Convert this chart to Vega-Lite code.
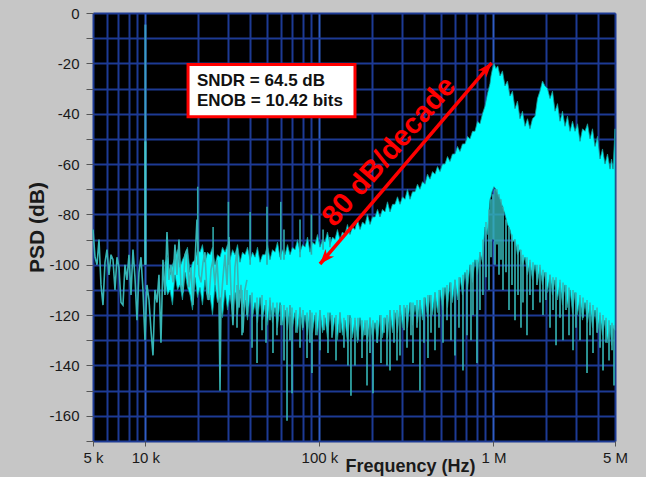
{
  "$schema": "https://vega.github.io/schema/vega-lite/v6.json",
  "width": 522,
  "height": 428,
  "autosize": {"type": "none"},
  "padding": {"left": 93, "top": 13, "right": 31, "bottom": 36},
  "background": "#c6c6c6",
  "config": {
    "view": {"fill": "#000000", "stroke": "#8c8c8c", "strokeWidth": 1},
    "font": "Liberation Sans"
  },
  "datasets": {
    "band": [
      {"f": 12970, "db": -99, "db2": -106}, {"f": 13405, "db": -97, "db2": -112},
      {"f": 13850, "db": -104, "db2": -110}, {"f": 14315, "db": -100, "db2": -116},
      {"f": 14800, "db": -97, "db2": -104}, {"f": 15300, "db": -94, "db2": -110},
      {"f": 15810, "db": -101, "db2": -108}, {"f": 16340, "db": -98, "db2": -114},
      {"f": 16890, "db": -96, "db2": -103}, {"f": 17460, "db": -93, "db2": -109},
      {"f": 18050, "db": -103, "db2": -112}, {"f": 18660, "db": -99, "db2": -118},
      {"f": 19280, "db": -98, "db2": -105}, {"f": 19930, "db": -94, "db2": -113},
      {"f": 20600, "db": -95, "db2": -109}, {"f": 21290, "db": -92, "db2": -116},
      {"f": 22010, "db": -99, "db2": -106}, {"f": 22750, "db": -95, "db2": -114},
      {"f": 23520, "db": -96, "db2": -112}, {"f": 24310, "db": -93, "db2": -120},
      {"f": 25130, "db": -100, "db2": -108}, {"f": 25970, "db": -96, "db2": -115},
      {"f": 26850, "db": -97, "db2": -113}, {"f": 27750, "db": -93, "db2": -121},
      {"f": 28690, "db": -95, "db2": -110}, {"f": 29650, "db": -92, "db2": -118},
      {"f": 30650, "db": -98, "db2": -112}, {"f": 31680, "db": -94, "db2": -119},
      {"f": 32750, "db": -96, "db2": -111}, {"f": 33850, "db": -92, "db2": -120},
      {"f": 34980, "db": -99, "db2": -110}, {"f": 36160, "db": -95, "db2": -118},
      {"f": 37370, "db": -96, "db2": -114}, {"f": 38630, "db": -93, "db2": -122},
      {"f": 39940, "db": -98, "db2": -112}, {"f": 41280, "db": -95, "db2": -121},
      {"f": 42670, "db": -97, "db2": -115}, {"f": 44100, "db": -93, "db2": -123},
      {"f": 45590, "db": -99, "db2": -113}, {"f": 47120, "db": -96, "db2": -122},
      {"f": 48710, "db": -96, "db2": -116}, {"f": 50350, "db": -92, "db2": -124},
      {"f": 52010, "db": -98, "db2": -114}, {"f": 53760, "db": -94, "db2": -123},
      {"f": 55570, "db": -95, "db2": -117}, {"f": 57440, "db": -91, "db2": -125},
      {"f": 59400, "db": -97, "db2": -115}, {"f": 61400, "db": -94, "db2": -124},
      {"f": 63460, "db": -96, "db2": -118}, {"f": 65590, "db": -92, "db2": -126},
      {"f": 67800, "db": -96, "db2": -116}, {"f": 70080, "db": -93, "db2": -125},
      {"f": 72440, "db": -94, "db2": -119}, {"f": 74870, "db": -90, "db2": -127},
      {"f": 77400, "db": -95, "db2": -117}, {"f": 80000, "db": -92, "db2": -126},
      {"f": 82700, "db": -93, "db2": -120}, {"f": 85480, "db": -89, "db2": -128},
      {"f": 88300, "db": -95, "db2": -118}, {"f": 91270, "db": -91, "db2": -127},
      {"f": 94350, "db": -92, "db2": -120}, {"f": 97520, "db": -88, "db2": -128},
      {"f": 100800, "db": -93, "db2": -118}, {"f": 104200, "db": -90, "db2": -127},
      {"f": 107700, "db": -91, "db2": -121}, {"f": 111300, "db": -87, "db2": -129},
      {"f": 115100, "db": -92, "db2": -119}, {"f": 119000, "db": -89, "db2": -128},
      {"f": 122900, "db": -90, "db2": -121}, {"f": 127000, "db": -86, "db2": -130},
      {"f": 131300, "db": -90, "db2": -119}, {"f": 135700, "db": -87, "db2": -128},
      {"f": 140300, "db": -88, "db2": -122}, {"f": 145000, "db": -84, "db2": -131},
      {"f": 149900, "db": -88, "db2": -120}, {"f": 154900, "db": -85, "db2": -129},
      {"f": 160200, "db": -86, "db2": -122}, {"f": 165600, "db": -82, "db2": -131},
      {"f": 171200, "db": -86, "db2": -121}, {"f": 177000, "db": -83, "db2": -130},
      {"f": 182900, "db": -84, "db2": -123}, {"f": 189000, "db": -80, "db2": -131},
      {"f": 195400, "db": -84, "db2": -121}, {"f": 202000, "db": -81, "db2": -130},
      {"f": 208800, "db": -81, "db2": -123}, {"f": 215800, "db": -78, "db2": -131},
      {"f": 223000, "db": -81, "db2": -120}, {"f": 230500, "db": -78, "db2": -129},
      {"f": 238300, "db": -79, "db2": -121}, {"f": 246300, "db": -75, "db2": -129},
      {"f": 254600, "db": -79, "db2": -118}, {"f": 263200, "db": -76, "db2": -127},
      {"f": 272000, "db": -76, "db2": -119}, {"f": 281100, "db": -73, "db2": -127},
      {"f": 290600, "db": -76, "db2": -116}, {"f": 300400, "db": -73, "db2": -125},
      {"f": 310500, "db": -74, "db2": -117}, {"f": 320900, "db": -70, "db2": -125},
      {"f": 331700, "db": -74, "db2": -115}, {"f": 342800, "db": -71, "db2": -124},
      {"f": 354400, "db": -71, "db2": -116}, {"f": 366300, "db": -68, "db2": -123},
      {"f": 378600, "db": -70, "db2": -114}, {"f": 391300, "db": -67, "db2": -122},
      {"f": 404500, "db": -68, "db2": -113}, {"f": 418100, "db": -64, "db2": -121},
      {"f": 432300, "db": -66, "db2": -112}, {"f": 446800, "db": -63, "db2": -120},
      {"f": 461800, "db": -64, "db2": -111}, {"f": 477300, "db": -61, "db2": -119},
      {"f": 493400, "db": -63, "db2": -110}, {"f": 510000, "db": -60, "db2": -118},
      {"f": 527200, "db": -60, "db2": -109}, {"f": 544900, "db": -57, "db2": -117},
      {"f": 563100, "db": -59, "db2": -107}, {"f": 582000, "db": -56, "db2": -115},
      {"f": 601700, "db": -56, "db2": -106}, {"f": 621900, "db": -53, "db2": -114},
      {"f": 642800, "db": -55, "db2": -105}, {"f": 664400, "db": -52, "db2": -112},
      {"f": 686800, "db": -52, "db2": -103}, {"f": 709900, "db": -49, "db2": -110},
      {"f": 733800, "db": -50, "db2": -100}, {"f": 758400, "db": -47, "db2": -107},
      {"f": 784000, "db": -47, "db2": -98}, {"f": 810300, "db": -43, "db2": -104},
      {"f": 837500, "db": -44, "db2": -95}, {"f": 865600, "db": -40, "db2": -99},
      {"f": 894800, "db": -37, "db2": -85}, {"f": 925000, "db": -32, "db2": -88},
      {"f": 956300, "db": -28, "db2": -74}, {"f": 969000, "db": -25, "db2": -73},
      {"f": 982000, "db": -23, "db2": -71}, {"f": 1008000, "db": -20, "db2": -69},
      {"f": 1035000, "db": -22, "db2": -70}, {"f": 1060000, "db": -21, "db2": -72},
      {"f": 1091600, "db": -25, "db2": -74}, {"f": 1128000, "db": -23, "db2": -77},
      {"f": 1166000, "db": -29, "db2": -80}, {"f": 1205000, "db": -27, "db2": -84},
      {"f": 1246000, "db": -33, "db2": -86}, {"f": 1288000, "db": -31, "db2": -91},
      {"f": 1331000, "db": -38, "db2": -90}, {"f": 1376000, "db": -35, "db2": -96},
      {"f": 1422000, "db": -42, "db2": -94}, {"f": 1470000, "db": -39, "db2": -100},
      {"f": 1520000, "db": -45, "db2": -97}, {"f": 1571000, "db": -42, "db2": -104},
      {"f": 1623000, "db": -46, "db2": -99}, {"f": 1678000, "db": -42, "db2": -106},
      {"f": 1735000, "db": -41, "db2": -100}, {"f": 1793000, "db": -34, "db2": -107},
      {"f": 1853000, "db": -31, "db2": -101}, {"f": 1915000, "db": -27, "db2": -108},
      {"f": 1980000, "db": -29, "db2": -103}, {"f": 2047000, "db": -30, "db2": -111},
      {"f": 2116000, "db": -34, "db2": -104}, {"f": 2187000, "db": -31, "db2": -112},
      {"f": 2261000, "db": -39, "db2": -106}, {"f": 2337000, "db": -36, "db2": -114},
      {"f": 2415000, "db": -43, "db2": -107}, {"f": 2496000, "db": -39, "db2": -116},
      {"f": 2580000, "db": -45, "db2": -108}, {"f": 2667000, "db": -41, "db2": -117},
      {"f": 2757000, "db": -47, "db2": -110}, {"f": 2850000, "db": -43, "db2": -119},
      {"f": 2946000, "db": -47, "db2": -111}, {"f": 3045000, "db": -44, "db2": -120},
      {"f": 3147000, "db": -51, "db2": -113}, {"f": 3253000, "db": -46, "db2": -122},
      {"f": 3362000, "db": -47, "db2": -115}, {"f": 3475000, "db": -44, "db2": -123},
      {"f": 3592000, "db": -50, "db2": -116}, {"f": 3713000, "db": -46, "db2": -125},
      {"f": 3838000, "db": -53, "db2": -118}, {"f": 3967000, "db": -49, "db2": -127},
      {"f": 4101000, "db": -58, "db2": -120}, {"f": 4239000, "db": -54, "db2": -128},
      {"f": 4381000, "db": -60, "db2": -122}, {"f": 4528000, "db": -56, "db2": -131},
      {"f": 4681000, "db": -62, "db2": -124}, {"f": 4775000, "db": -58, "db2": -132},
      {"f": 4870000, "db": -62, "db2": -125}, {"f": 5000000, "db": -46, "db2": -126}
    ],
    "spikes": [
      {"f": 33623, "db": -108, "db2": -125}, {"f": 35919, "db": -110, "db2": -128}, {"f": 38376, "db": -110, "db2": -120},
      {"f": 41011, "db": -111, "db2": -133}, {"f": 43817, "db": -113, "db2": -139}, {"f": 46810, "db": -112, "db2": -126},
      {"f": 49354, "db": -114, "db2": -131}, {"f": 52008, "db": -113, "db2": -122}, {"f": 54114, "db": -115, "db2": -135},
      {"f": 57056, "db": -115, "db2": -128}, {"f": 60191, "db": -116, "db2": -124}, {"f": 62629, "db": -116, "db2": -138},
      {"f": 65165, "db": -117, "db2": -162}, {"f": 67800, "db": -116, "db2": -130}, {"f": 69618, "db": -117, "db2": -151},
      {"f": 73403, "db": -118, "db2": -127}, {"f": 77400, "db": -117, "db2": -133}, {"f": 80535, "db": -118, "db2": -125},
      {"f": 84912, "db": -119, "db2": -137}, {"f": 88300, "db": -118, "db2": -131}, {"f": 90668, "db": -119, "db2": -143},
      {"f": 95597, "db": -119, "db2": -128}, {"f": 100800, "db": -118, "db2": -134}, {"f": 106280, "db": -120, "db2": -126},
      {"f": 112057, "db": -119, "db2": -135}, {"f": 118187, "db": -120, "db2": -129}, {"f": 124612, "db": -120, "db2": -138},
      {"f": 131300, "db": -119, "db2": -127}, {"f": 138437, "db": -121, "db2": -133}, {"f": 145964, "db": -120, "db2": -140},
      {"f": 151897, "db": -121, "db2": -152}, {"f": 160153, "db": -121, "db2": -140}, {"f": 166641, "db": -121, "db2": -130},
      {"f": 175792, "db": -122, "db2": -137}, {"f": 182910, "db": -122, "db2": -128}, {"f": 187817, "db": -122, "db2": -148},
      {"f": 195400, "db": -121, "db2": -135}, {"f": 203314, "db": -122, "db2": -151}, {"f": 214366, "db": -122, "db2": -131},
      {"f": 225970, "db": -120, "db2": -139}, {"f": 235122, "db": -121, "db2": -127}, {"f": 244644, "db": -120, "db2": -140},
      {"f": 254600, "db": -118, "db2": -142}, {"f": 268440, "db": -118, "db2": -131}, {"f": 279311, "db": -118, "db2": -138},
      {"f": 290600, "db": -116, "db2": -136}, {"f": 306397, "db": -116, "db2": -126}, {"f": 318806, "db": -116, "db2": -133},
      {"f": 336118, "db": -115, "db2": -128}, {"f": 345136, "db": -115, "db2": -139}, {"f": 363895, "db": -114, "db2": -125},
      {"f": 378600, "db": -114, "db2": -150}, {"f": 399181, "db": -113, "db2": -131}, {"f": 420882, "db": -112, "db2": -137},
      {"f": 438058, "db": -112, "db2": -127}, {"f": 461869, "db": -111, "db2": -134}, {"f": 486977, "db": -110, "db2": -125},
      {"f": 513383, "db": -109, "db2": -131}, {"f": 541289, "db": -108, "db2": -122}, {"f": 570600, "db": -107, "db2": -130},
      {"f": 601616, "db": -106, "db2": -136}, {"f": 634321, "db": -105, "db2": -125}, {"f": 668833, "db": -104, "db2": -142},
      {"f": 705190, "db": -102, "db2": -128}, {"f": 743574, "db": -100, "db2": -130}, {"f": 763519, "db": -99, "db2": -120},
      {"f": 805023, "db": -98, "db2": -139}, {"f": 837500, "db": -95, "db2": -118}, {"f": 871419, "db": -90, "db2": -112},
      {"f": 906711, "db": -83, "db2": -105}, {"f": 943427, "db": -78, "db2": -110}, {"f": 969038, "db": -74, "db2": -97},
      {"f": 995030, "db": -72, "db2": -90}, {"f": 1021711, "db": -70, "db2": -100}, {"f": 1049118, "db": -70, "db2": -92},
      {"f": 1077253, "db": -72, "db2": -104}, {"f": 1106140, "db": -74, "db2": -98}, {"f": 1135810, "db": -77, "db2": -110},
      {"f": 1181810, "db": -82, "db2": -103}, {"f": 1229666, "db": -85, "db2": -118}, {"f": 1279418, "db": -88, "db2": -108},
      {"f": 1331226, "db": -90, "db2": -122}, {"f": 1385153, "db": -92, "db2": -112}, {"f": 1440941, "db": -94, "db2": -125},
      {"f": 1479591, "db": -96, "db2": -115}, {"f": 1560019, "db": -97, "db2": -128}, {"f": 1623000, "db": -98, "db2": -112},
      {"f": 1688732, "db": -99, "db2": -118}, {"f": 1780528, "db": -100, "db2": -108}, {"f": 1853000, "db": -100, "db2": -115},
      {"f": 1928047, "db": -102, "db2": -120}, {"f": 2006132, "db": -103, "db2": -114}, {"f": 2116000, "db": -104, "db2": -125},
      {"f": 2201698, "db": -105, "db2": -118}, {"f": 2290866, "db": -105, "db2": -132}, {"f": 2415000, "db": -106, "db2": -121},
      {"f": 2512808, "db": -107, "db2": -130}, {"f": 2614576, "db": -108, "db2": -118}, {"f": 2720449, "db": -109, "db2": -128},
      {"f": 2868659, "db": -110, "db2": -134}, {"f": 2984838, "db": -111, "db2": -125}, {"f": 3147000, "db": -112, "db2": -130},
      {"f": 3274454, "db": -113, "db2": -121}, {"f": 3452448, "db": -114, "db2": -143}, {"f": 3592000, "db": -115, "db2": -128},
      {"f": 3737476, "db": -116, "db2": -135}, {"f": 3940640, "db": -117, "db2": -127}, {"f": 4101000, "db": -119, "db2": -133},
      {"f": 4267091, "db": -120, "db2": -142}, {"f": 4439907, "db": -121, "db2": -131}, {"f": 4619695, "db": -122, "db2": -138},
      {"f": 4806544, "db": -123, "db2": -134}, {"f": 4935459, "db": -124, "db2": -148}
    ],
    "spurs": [
      {"f": 20000, "db": -69, "db2": -100}, {"f": 24500, "db": -85, "db2": -100}, {"f": 30000, "db": -75, "db2": -100},
      {"f": 40000, "db": -79, "db2": -100}, {"f": 50000, "db": -77, "db2": -100}, {"f": 60000, "db": -75, "db2": -98},
      {"f": 62600, "db": -86, "db2": -98}, {"f": 77400, "db": -82, "db2": -97}, {"f": 90000, "db": -80, "db2": -96},
      {"f": 105000, "db": -86, "db2": -94}, {"f": 115000, "db": -89, "db2": -93}
    ],
    "low": [
      {"f": 5000, "db": -86}, {"f": 5134, "db": -97}, {"f": 5272, "db": -100}, {"f": 5413, "db": -90},
      {"f": 5558, "db": -108}, {"f": 5707, "db": -116}, {"f": 5860, "db": -99}, {"f": 6017, "db": -94},
      {"f": 6178, "db": -104}, {"f": 6344, "db": -96}, {"f": 6514, "db": -98}, {"f": 6689, "db": -110},
      {"f": 6868, "db": -97}, {"f": 7052, "db": -101}, {"f": 7241, "db": -115}, {"f": 7435, "db": -116},
      {"f": 7635, "db": -100}, {"f": 7839, "db": -106}, {"f": 8050, "db": -96}, {"f": 8265, "db": -112},
      {"f": 8487, "db": -94}, {"f": 8714, "db": -105}, {"f": 8948, "db": -122}, {"f": 9188, "db": -103},
      {"f": 9434, "db": -97}, {"f": 9687, "db": -110}, {"f": 9947, "db": -130}, {"f": 10210, "db": -108},
      {"f": 10490, "db": -114}, {"f": 10770, "db": -126}, {"f": 11060, "db": -136}, {"f": 11350, "db": -110},
      {"f": 11660, "db": -115}, {"f": 11970, "db": -104}, {"f": 12290, "db": -131}, {"f": 12620, "db": -98},
      {"f": 12960, "db": -112}, {"f": 13310, "db": -87}, {"f": 13660, "db": -106}, {"f": 14030, "db": -100},
      {"f": 14410, "db": -107}, {"f": 14790, "db": -92}, {"f": 15190, "db": -104}, {"f": 15600, "db": -90},
      {"f": 16010, "db": -108}, {"f": 16440, "db": -111}, {"f": 16890, "db": -96}, {"f": 17340, "db": -94},
      {"f": 17800, "db": -109}, {"f": 18280, "db": -101}, {"f": 18770, "db": -116}, {"f": 19280, "db": -99},
      {"f": 19790, "db": -82}, {"f": 20320, "db": -104}, {"f": 20870, "db": -107}, {"f": 21430, "db": -99},
      {"f": 22000, "db": -95}, {"f": 22590, "db": -111}, {"f": 23200, "db": -114}, {"f": 23820, "db": -102},
      {"f": 24460, "db": -98}, {"f": 25110, "db": -108}, {"f": 25790, "db": -98}, {"f": 26480, "db": -112},
      {"f": 26850, "db": -150}, {"f": 27190, "db": -116}, {"f": 27920, "db": -105}, {"f": 28670, "db": -96},
      {"f": 29440, "db": -108}, {"f": 30230, "db": -89}, {"f": 31040, "db": -110}, {"f": 31870, "db": -124},
      {"f": 32720, "db": -101}, {"f": 33600, "db": -94}, {"f": 34500, "db": -117}, {"f": 35430, "db": -108},
      {"f": 36380, "db": -127}, {"f": 37350, "db": -110}, {"f": 38350, "db": -106}
    ],
    "tone": [{"f": 10000, "db": -4.6, "db2": -100}],
    "toneb": [{"f": 10000, "db": -51, "db2": -100}],
    "box": [{"f": 17590, "f2": 160200, "db": -20.5, "db2": -41.2}],
    "boxtext": [
      {"f": 19790, "db": -29.1, "t": "SNDR = 64.5 dB"},
      {"f": 19790, "db": -37.1, "t": "ENOB = 10.42 bits"}
    ],
    "arrow": [{"f": 100800, "db": -99.7, "f2": 978000, "db2": -19.8}],
    "tipA": [{"f": 100800, "db": -99.7}],
    "tipB": [{"f": 978000, "db": -19.8}],
    "slope": [{"f": 251000, "db": -55.0, "t": "80 dB/decade"}]
  },
  "encoding": {
    "x": {
      "field": "f",
      "type": "quantitative",
      "scale": {"type": "log", "domain": [5000, 5000000], "nice": false},
      "axis": {
        "title": "Frequency (Hz)",
        "values": [5000, 6000, 7000, 8000, 9000, 10000, 20000, 30000, 40000, 50000, 60000, 70000, 80000, 90000, 100000, 200000, 300000, 400000, 500000, 600000, 700000, 800000, 900000, 1000000, 2000000, 3000000, 4000000, 5000000],
        "labelExpr": "datum.value == 5000 ? '5 k' : datum.value == 10000 ? '10 k' : datum.value == 100000 ? '100 k' : datum.value == 1000000 ? '1 M' : datum.value == 5000000 ? '5 M' : ''",
        "labelOverlap": false,
        "labelFlush": false,
        "labelFont": "Liberation Sans",
        "labelFontSize": 15,
        "labelColor": "#1a1a1a",
        "labelPadding": 4,
        "grid": true,
        "gridColor": {"condition": {"test": "datum.value == 10000 || datum.value == 100000 || datum.value == 1000000", "value": "#2f5cc4"}, "value": "#1d3a94"},
        "gridWidth": 2,
        "domain": false,
        "tickSize": 5,
        "tickColor": "#555555",
        "tickOpacity": {"condition": {"test": "datum.value == 5000 || datum.value == 10000 || datum.value == 100000 || datum.value == 1000000 || datum.value == 5000000", "value": 1}, "value": 0},
        "titleFont": "Liberation Sans",
        "titleFontSize": 18,
        "titleFontWeight": "bold",
        "titleColor": "#1a1a1a",
        "titleX": 317,
        "titleY": 30,
        "titleAlign": "center",
        "titleBaseline": "alphabetic"
      }
    },
    "y": {
      "field": "db",
      "type": "quantitative",
      "scale": {"domain": [-170, 0], "nice": false, "zero": false},
      "axis": {
        "title": "PSD (dB)",
        "values": [-170, -160, -150, -140, -130, -120, -110, -100, -90, -80, -70, -60, -50, -40, -30, -20, -10, 0],
        "labelExpr": "datum.value % 20 == 0 ? '' + datum.value : ''",
        "labelOverlap": false,
        "labelFont": "Liberation Sans",
        "labelFontSize": 15,
        "labelColor": "#1a1a1a",
        "labelPadding": 7,
        "grid": true,
        "gridColor": "#1d3a94",
        "gridWidth": 2,
        "domain": false,
        "tickSize": 7,
        "tickColor": "#555555",
        "titleFont": "Liberation Sans",
        "titleFontSize": 21,
        "titleFontWeight": "bold",
        "titleColor": "#1a1a1a",
        "titleX": -56,
        "titleY": 214,
        "titleAngle": 270,
        "titleAlign": "center",
        "titleBaseline": "middle"
      }
    }
  },
  "layer": [
    {
      "data": {"name": "band"},
      "mark": {"type": "area", "color": "#00ffff", "stroke": "#1c9090", "strokeWidth": 0.8, "opacity": 1},
      "encoding": {"y2": {"field": "db2"}}
    },
    {
      "data": {"name": "spikes"},
      "mark": {"type": "rule", "color": "#35b6b6", "strokeWidth": 1.6},
      "encoding": {"y2": {"field": "db2"}}
    },
    {
      "data": {"name": "spurs"},
      "mark": {"type": "rule", "color": "#30a8a8", "strokeWidth": 1.6},
      "encoding": {"y2": {"field": "db2"}}
    },
    {
      "data": {"name": "low"},
      "mark": {"type": "line", "color": "#36b4b4", "strokeWidth": 1.6},
      "encoding": {}
    },
    {
      "data": {"name": "tone"},
      "mark": {"type": "rule", "color": "#3a9cc4", "strokeWidth": 2},
      "encoding": {"y2": {"field": "db2"}}
    },
    {
      "data": {"name": "toneb"},
      "mark": {"type": "rule", "color": "#45c6c6", "strokeWidth": 2},
      "encoding": {"y2": {"field": "db2"}}
    },
    {
      "data": {"name": "box"},
      "mark": {"type": "rect", "fill": "#ffffff", "stroke": "#ff0000", "strokeWidth": 3},
      "encoding": {"x2": {"field": "f2"}, "y2": {"field": "db2"}}
    },
    {
      "data": {"name": "boxtext"},
      "mark": {"type": "text", "align": "left", "baseline": "alphabetic", "font": "Liberation Sans", "fontSize": 17, "fontWeight": "bold", "color": "#111111"},
      "encoding": {"text": {"field": "t"}}
    },
    {
      "data": {"name": "arrow"},
      "mark": {"type": "rule", "color": "#ff0000", "strokeWidth": 3.5},
      "encoding": {"x2": {"field": "f2"}, "y2": {"field": "db2"}}
    },
    {
      "data": {"name": "tipA"},
      "mark": {"type": "point", "shape": "M0,0L0.6,1.6L0,1.15L-0.6,1.6Z", "filled": true, "color": "#ff0000", "opacity": 1, "size": 350, "angle": 221},
      "encoding": {}
    },
    {
      "data": {"name": "tipB"},
      "mark": {"type": "point", "shape": "M0,0L0.6,1.6L0,1.15L-0.6,1.6Z", "filled": true, "color": "#ff0000", "opacity": 1, "size": 350, "angle": 41},
      "encoding": {}
    },
    {
      "data": {"name": "slope"},
      "mark": {"type": "text", "align": "center", "baseline": "middle", "angle": 311, "font": "Liberation Sans", "fontSize": 29, "fontWeight": "bold", "color": "#ff0000"},
      "encoding": {"text": {"field": "t"}}
    }
  ]
}
